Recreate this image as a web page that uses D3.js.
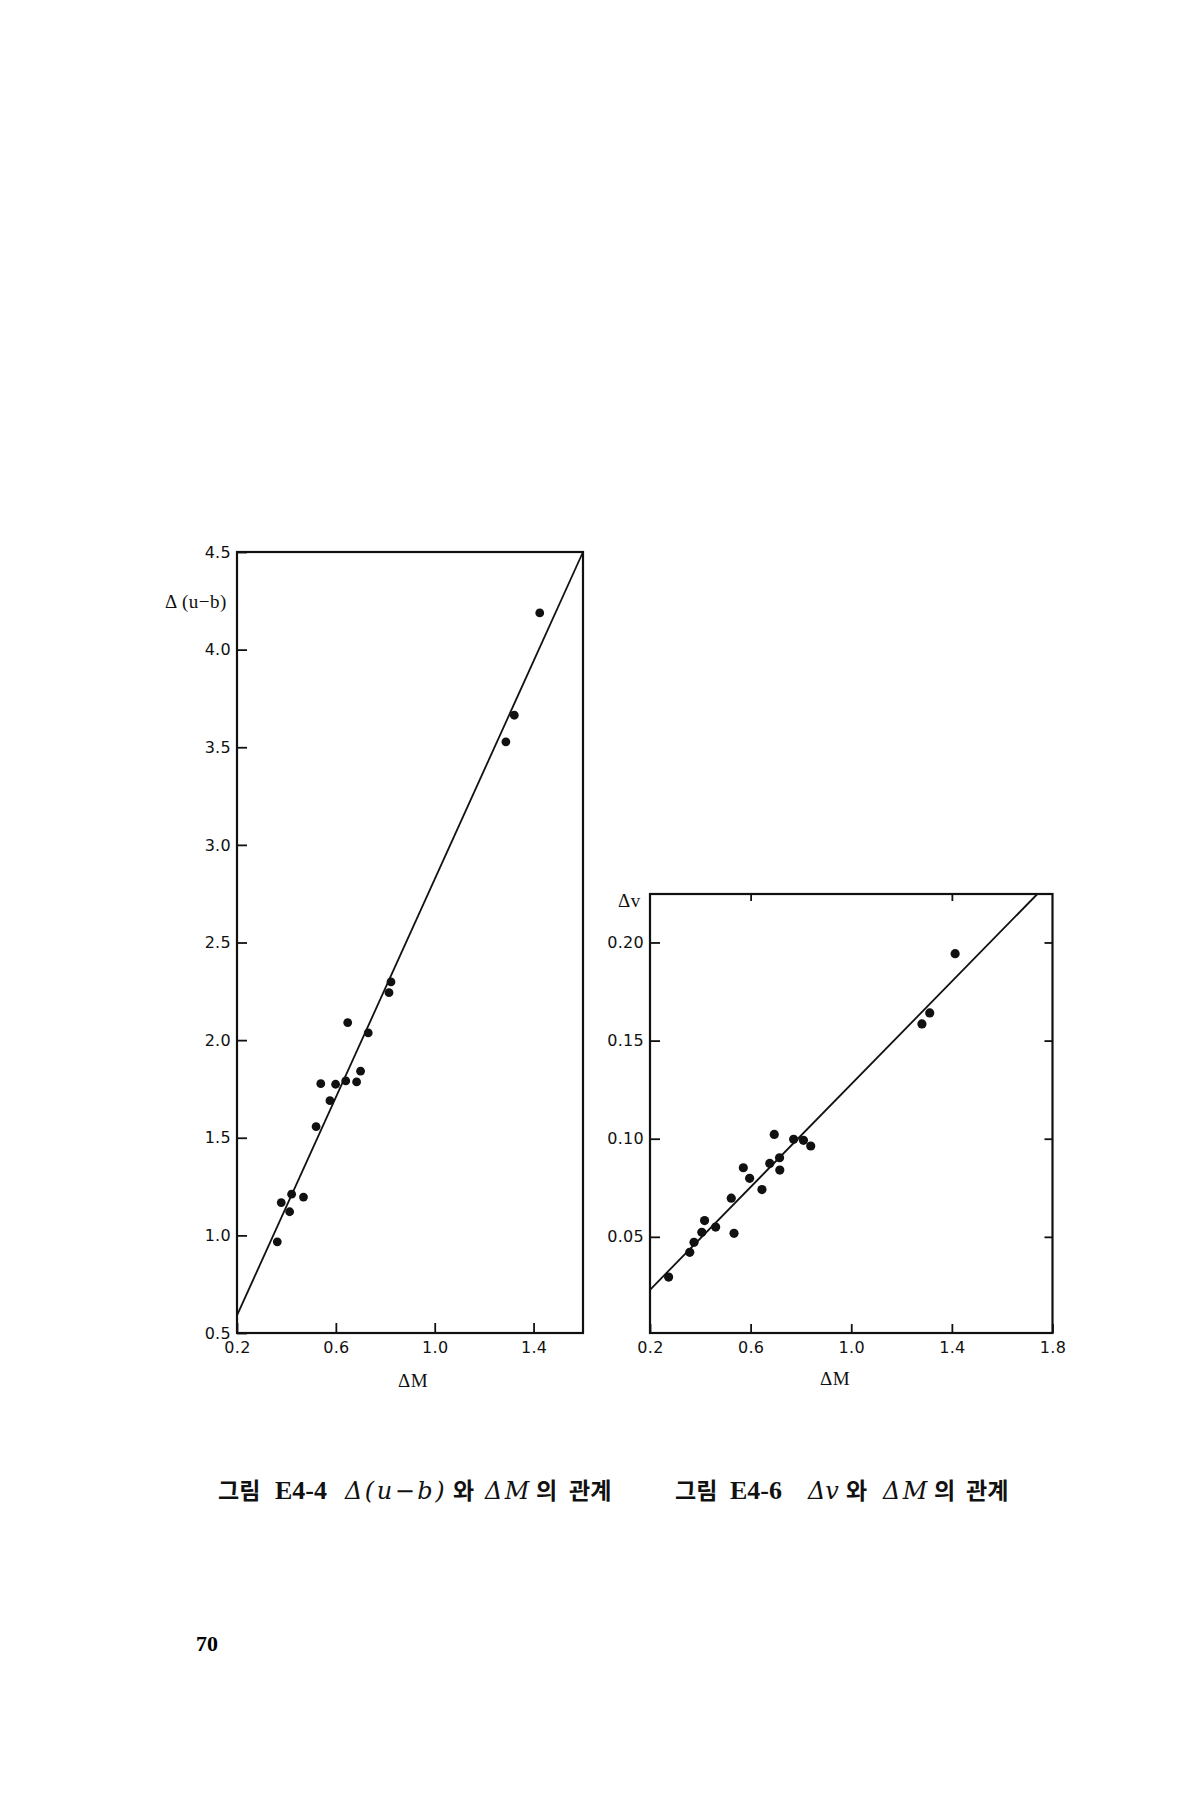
<html lang="ko">
<head>
<meta charset="utf-8">
<title>그림 E4-4, E4-6</title>
<style>
  body { margin: 0; background: #fff; }
  svg { display: block; background: #fff; }
  .frame { fill: none; stroke: #111; stroke-width: 2.2; }
  .fit { fill: none; stroke: #111; stroke-width: 1.8; }
  .dot { fill: #111; }
  .axis path { display: none; }
  .axis line { stroke: #111; stroke-width: 1.8; }
  .axis text { font-family: "DejaVu Sans", sans-serif; font-size: 16px; fill: #111; letter-spacing: 0.3px; }
  .lab { font-family: "Liberation Serif", "DejaVu Serif", serif; font-size: 19px; fill: #111; letter-spacing: 0.5px; }
  .cap { font-size: 23px; fill: #111; }
  .kr { font-family: "Noto Sans CJK KR", sans-serif; font-weight: 700; }
  .num { font-family: "Liberation Serif", serif; font-weight: 700; font-size: 26px; }
  .it { font-family: "DejaVu Serif", serif; font-style: italic; font-size: 24px; letter-spacing: 2.5px; }
  .it2 { font-family: "DejaVu Serif", serif; font-style: italic; font-size: 24px; }
</style>
</head>
<body>
<script src="https://cdn.jsdelivr.net/npm/d3@7"></script>
<script>
// 그림 E4-4 : Δ(u-b) vs ΔM
var ubDM = [0.363, 0.379, 0.413, 0.421, 0.469, 0.520, 0.539, 0.576, 0.599, 0.640, 0.684, 0.700, 0.648, 0.731, 0.815, 0.823, 1.288, 1.322, 1.425];
var ubVal = [0.967, 1.168, 1.121, 1.211, 1.196, 1.557, 1.777, 1.690, 1.774, 1.791, 1.786, 1.841, 2.090, 2.037, 2.243, 2.298, 3.528, 3.664, 4.188];
var ubFit = [[0.2, 0.59], [1.6, 4.5]];
var ubXTicks = [0.2, 0.6, 1.0, 1.4];
var ubYTicks = [0.5, 1.0, 1.5, 2.0, 2.5, 3.0, 3.5, 4.0, 4.5];

// 그림 E4-6 : Δv vs ΔM
var vDM = [1.413, 1.312, 1.281, 0.694, 0.771, 0.810, 0.839, 0.715, 0.676, 0.571, 0.716, 0.596, 0.645, 0.523, 0.417, 0.461, 0.406, 0.534, 0.375, 0.358, 0.274];
var vVal = [0.1943, 0.1641, 0.1585, 0.1022, 0.0997, 0.0992, 0.0963, 0.0903, 0.0874, 0.0852, 0.0840, 0.0798, 0.0741, 0.0697, 0.0583, 0.0550, 0.0523, 0.0518, 0.0472, 0.0421, 0.0295];
var vFit = [[0.2, 0.023], [1.74, 0.2247]];
var vXTicks = [0.2, 0.6, 1.0, 1.4, 1.8];
var vYTicks = [0.05, 0.10, 0.15, 0.20];
var vTopTicks = [0.6, 1.4];

var svg = d3.select("body").append("svg")
  .attr("width", 1200)
  .attr("height", 1800);

// ---------- left chart ----------
var x1 = d3.scaleLinear().domain([0.2, 1.6]).range([237, 583]);
var y1 = d3.scaleLinear().domain([0.5, 4.5]).range([1333, 552]);

var g1 = svg.append("g");

g1.append("g").attr("class", "axis")
  .attr("transform", "translate(0," + y1(0.5) + ")")
  .call(d3.axisBottom(x1).tickValues(ubXTicks).tickSize(-10).tickPadding(9).tickFormat(d3.format(".1f")));

g1.append("g").attr("class", "axis")
  .attr("transform", "translate(" + x1(0.2) + ",0)")
  .call(d3.axisLeft(y1).tickValues(ubYTicks).tickSize(-10).tickPadding(6).tickFormat(d3.format(".1f")));

g1.append("rect").attr("class", "frame")
  .attr("x", x1(0.2)).attr("y", y1(4.5))
  .attr("width", x1(1.6) - x1(0.2)).attr("height", y1(0.5) - y1(4.5));

g1.append("line").attr("class", "fit")
  .attr("x1", x1(ubFit[0][0])).attr("y1", y1(ubFit[0][1]))
  .attr("x2", x1(ubFit[1][0])).attr("y2", y1(ubFit[1][1]));

g1.selectAll("circle").data(ubDM).enter().append("circle")
  .attr("class", "dot")
  .attr("cx", function(d) { return x1(d); })
  .attr("cy", function(d, i) { return y1(ubVal[i]); })
  .attr("r", 4.4);

g1.append("text").attr("class", "lab")
  .attr("x", 165).attr("y", 608)
  .text("Δ (u−b)");

g1.append("text").attr("class", "lab")
  .attr("x", (x1(0.2) + x1(1.6)) / 2 + 3).attr("y", 1387)
  .style("text-anchor", "middle")
  .text("ΔM");

// ---------- right chart ----------
var x2 = d3.scaleLinear().domain([0.2, 1.8]).range([650, 1052.5]);
var y2 = d3.scaleLinear().domain([0.001, 0.2247]).range([1333, 894]);

var g2 = svg.append("g");

g2.append("g").attr("class", "axis")
  .attr("transform", "translate(0," + y2.range()[0] + ")")
  .call(d3.axisBottom(x2).tickValues(vXTicks).tickSize(-9).tickPadding(9).tickFormat(d3.format(".1f")));

g2.append("g").attr("class", "axis")
  .attr("transform", "translate(0," + y2.range()[1] + ")")
  .call(d3.axisTop(x2).tickValues(vTopTicks).tickSize(-7).tickFormat(""));

g2.append("g").attr("class", "axis")
  .attr("transform", "translate(" + x2(0.2) + ",0)")
  .call(d3.axisLeft(y2).tickValues(vYTicks).tickSize(-10).tickPadding(6).tickFormat(d3.format(".2f")));

g2.append("g").attr("class", "axis")
  .attr("transform", "translate(" + x2(1.8) + ",0)")
  .call(d3.axisRight(y2).tickValues(vYTicks).tickSize(-8).tickFormat(""));

g2.append("rect").attr("class", "frame")
  .attr("x", x2(0.2)).attr("y", y2.range()[1])
  .attr("width", x2(1.8) - x2(0.2)).attr("height", y2.range()[0] - y2.range()[1]);

g2.append("line").attr("class", "fit")
  .attr("x1", x2(vFit[0][0])).attr("y1", y2(vFit[0][1]))
  .attr("x2", x2(vFit[1][0])).attr("y2", y2(vFit[1][1]));

g2.selectAll("circle").data(vDM).enter().append("circle")
  .attr("class", "dot")
  .attr("cx", function(d) { return x2(d); })
  .attr("cy", function(d, i) { return y2(vVal[i]); })
  .attr("r", 4.6);

g2.append("text").attr("class", "lab")
  .attr("x", 618).attr("y", 907)
  .text("Δv");

g2.append("text").attr("class", "lab")
  .attr("x", 835).attr("y", 1385)
  .style("text-anchor", "middle")
  .text("ΔM");

// ---------- captions ----------
function caption(parts) {
  var t = svg.append("text").attr("class", "cap").attr("y", 1499);
  parts.forEach(function(p) {
    t.append("tspan").attr("class", p[2]).attr("x", p[0]).text(p[1]);
  });
}

caption([
  [218, "그림", "kr"], [275, "E4-4", "num"], [345, "Δ(u−b)", "it"], [453, "와", "kr"],
  [485, "ΔM", "it"], [536, "의", "kr"], [569, "관계", "kr"]
]);
caption([
  [675, "그림", "kr"], [730, "E4-6", "num"], [808, "Δv", "it2"], [846, "와", "kr"],
  [883, "ΔM", "it"], [934, "의", "kr"], [966, "관계", "kr"]
]);

svg.append("text")
  .attr("x", 196).attr("y", 1651)
  .style("font-family", "'Liberation Serif', serif")
  .style("font-weight", 700)
  .style("font-size", "22px")
  .text("70");
</script>
</body>
</html>
